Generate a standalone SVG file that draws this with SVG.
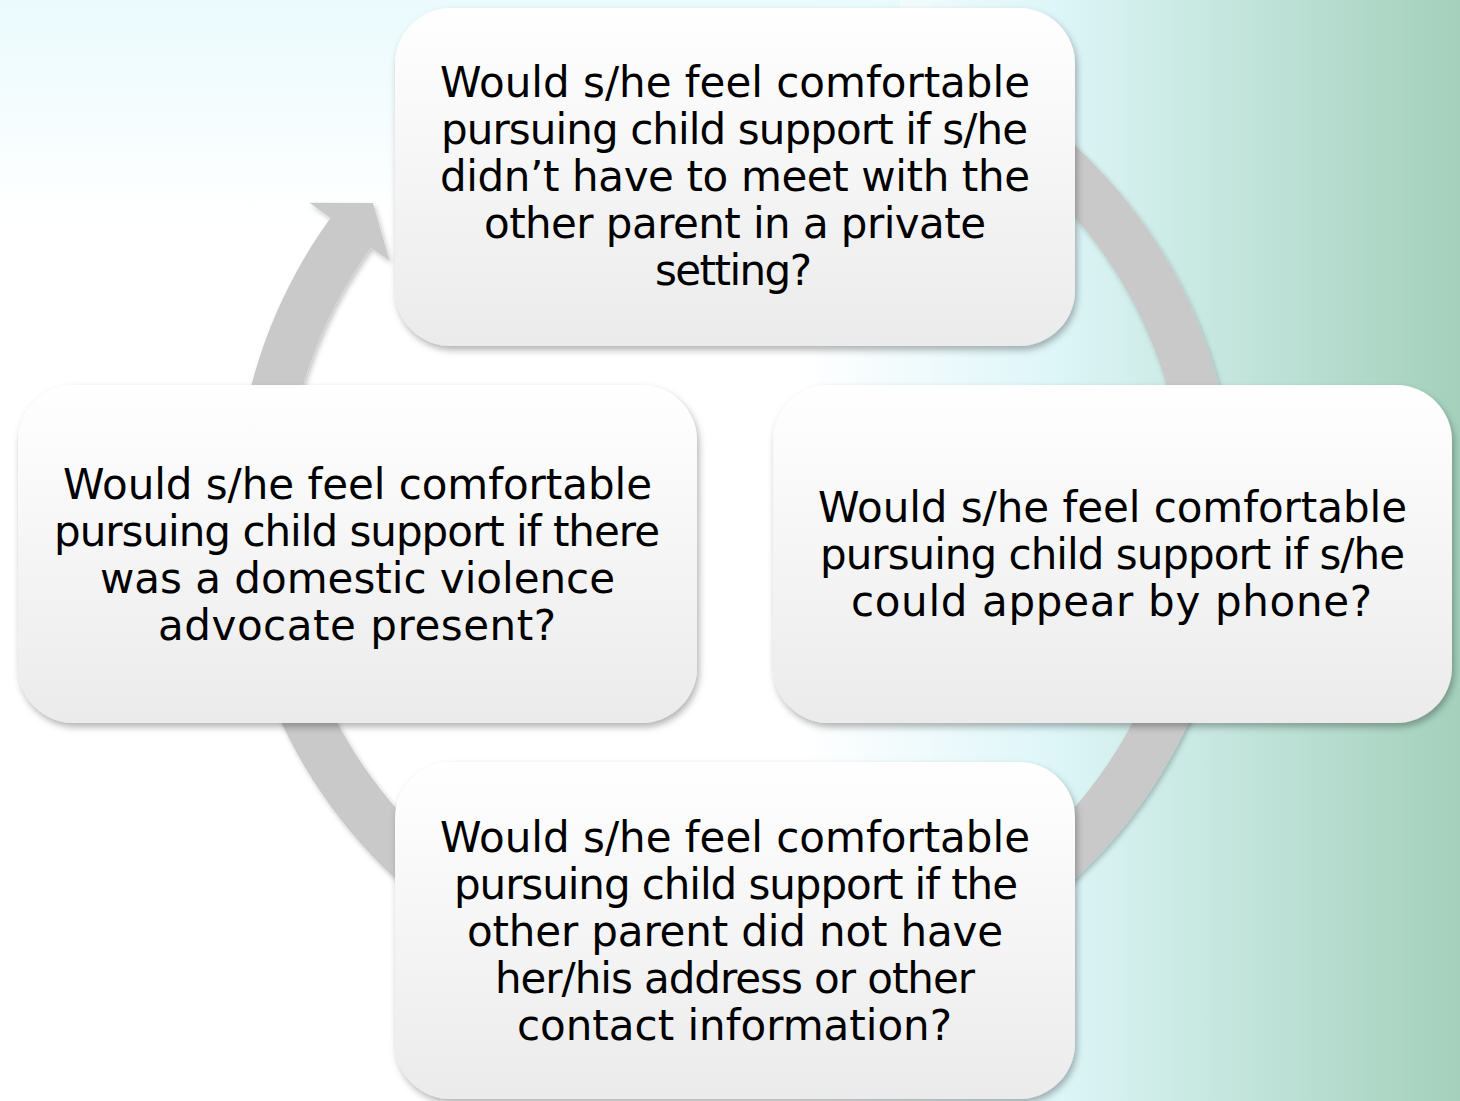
<svg xmlns="http://www.w3.org/2000/svg" width="1460" height="1101" viewBox="0 0 1460 1101">
<defs>
<linearGradient id="bgH" x1="0" y1="0" x2="1460" y2="0" gradientUnits="userSpaceOnUse">
<stop offset="0" stop-color="#ffffff"/>
<stop offset="0.55" stop-color="#ffffff"/>
<stop offset="0.72" stop-color="#def6f9"/>
<stop offset="0.86" stop-color="#c0e3d9"/>
<stop offset="1" stop-color="#a4d0bc"/>
</linearGradient>
<linearGradient id="bgTop" x1="0" y1="0" x2="0" y2="220" gradientUnits="userSpaceOnUse">
<stop offset="0" stop-color="#e8fafd" stop-opacity="1"/>
<stop offset="1" stop-color="#e8fafd" stop-opacity="0"/>
</linearGradient>
<linearGradient id="boxFill" x1="0" y1="0" x2="0" y2="1">
<stop offset="0" stop-color="#ffffff"/>
<stop offset="1" stop-color="#ebebeb"/>
</linearGradient>
<filter id="shadow" x="-10%" y="-10%" width="120%" height="125%">
<feDropShadow dx="2" dy="4" stdDeviation="3.5" flood-color="#000" flood-opacity="0.3"/>
</filter>
<filter id="ringShadow" x="-10%" y="-10%" width="120%" height="120%">
<feDropShadow dx="2" dy="3" stdDeviation="2.5" flood-color="#000" flood-opacity="0.22"/>
</filter>
</defs>
<style>
.box{fill:url(#boxFill);filter:url(#shadow);}
.t{font-family:"DejaVu Sans","Liberation Sans",sans-serif;font-size:42px;fill:#000;}
</style>
<rect width="1460" height="1101" fill="url(#bgH)"/>
<rect width="900" height="240" fill="url(#bgTop)" opacity="0.9"/>

<g id="connectors">
<path d="M413.6,129.0 A500,500 0 1 1 330.5,218.1 L309.5,202.8 L373,203 L389.6,261 L370.9,247.5 A450,450 0 1 0 445.7,167.3 Z" fill="#c9c9c9" filter="url(#ringShadow)"/>
</g>

<g id="node-top">
<rect class="box" x="395" y="8" width="680" height="338" rx="56"/>
<text class="t">
<tspan x="440" y="97" textLength="590">Would s/he feel comfortable</tspan>
<tspan x="441" y="144" textLength="587">pursuing child support if s/he</tspan>
<tspan x="440" y="191" textLength="590">didn’t have to meet with the</tspan>
<tspan x="484" y="238" textLength="502">other parent in a private</tspan>
<tspan x="655" y="285" textLength="157">setting?</tspan>
</text>
</g>

<g id="node-left">
<rect class="box" x="18" y="385" width="679" height="338" rx="56"/>
<text class="t">
<tspan x="63" y="499" textLength="589">Would s/he feel comfortable</tspan>
<tspan x="54" y="546" textLength="606">pursuing child support if there</tspan>
<tspan x="100" y="593" textLength="515">was a domestic violence</tspan>
<tspan x="158" y="640" textLength="398">advocate present?</tspan>
</text>
</g>

<g id="node-right">
<rect class="box" x="773" y="385" width="679" height="338" rx="56"/>
<text class="t">
<tspan x="818" y="522" textLength="589">Would s/he feel comfortable</tspan>
<tspan x="820" y="569" textLength="585">pursuing child support if s/he</tspan>
<tspan x="851" y="616" textLength="521">could appear by phone?</tspan>
</text>
</g>

<g id="node-bottom">
<rect class="box" x="395" y="762" width="680" height="337" rx="56"/>
<text class="t">
<tspan x="440" y="852" textLength="590">Would s/he feel comfortable</tspan>
<tspan x="454" y="899" textLength="564">pursuing child support if the</tspan>
<tspan x="467" y="946" textLength="536">other parent did not have</tspan>
<tspan x="495" y="993" textLength="480">her/his address or other</tspan>
<tspan x="517" y="1040" textLength="435">contact information?</tspan>
</text>
</g>
</svg>
